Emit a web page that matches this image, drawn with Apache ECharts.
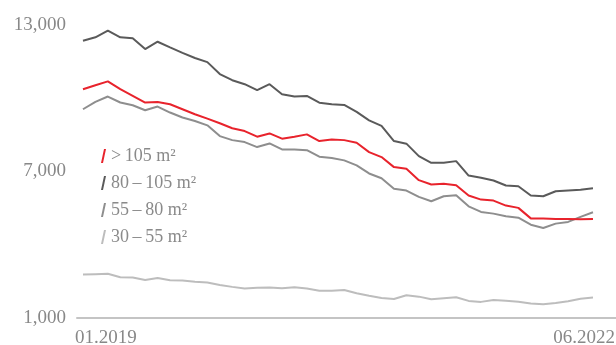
<!DOCTYPE html>
<html>
<head>
<meta charset="utf-8">
<script src="https://cdn.jsdelivr.net/npm/echarts@6/dist/echarts.min.js"></script>
<style>
  html, body { margin: 0; padding: 0; background: #fff; }
  #chart { width: 616px; height: 345px; }
</style>
</head>
<body>
<div id="chart"></div>
<script>
// months 01.2019 .. 06.2022 (42 points)
var months = [];
for (var y = 2019; y <= 2022; y++) {
  for (var m = 1; m <= 12; m++) {
    if (y === 2022 && m > 6) break;
    months.push((m < 10 ? '0' + m : '' + m) + '.' + y);
  }
}
var xLabels = ['01.2019', '06.2022'];
var yTicks = [1000, 7000, 13000];

var names = ['>\u2009105 m²', '80\u2009–\u2009105 m²', '55\u2009–\u200980 m²', '30\u2009–\u200955 m²'];

var over105 = [10370, 10535, 10690, 10370, 10100, 9825, 9850, 9755, 9550, 9345,
  9165, 8975, 8770, 8655, 8425, 8560, 8345, 8425, 8520, 8245,
  8315, 8285, 8180, 7795, 7590, 7180, 7110, 6645, 6465, 6495,
  6440, 6015, 5850, 5810, 5605, 5510, 5080, 5070, 5055, 5055,
  5040, 5055];
var from80to105 = [12355, 12495, 12765, 12495, 12455, 12015, 12315, 12085, 11860, 11650,
  11480, 10990, 10740, 10575, 10330, 10575, 10165, 10070, 10095, 9820,
  9755, 9725, 9440, 9095, 8865, 8245, 8140, 7630, 7355, 7355,
  7425, 6835, 6740, 6630, 6425, 6395, 6015, 5985, 6190, 6220,
  6250, 6315];
var from55to80 = [9550, 9850, 10070, 9825, 9715, 9510, 9660, 9415, 9210, 9070,
  8890, 8450, 8285, 8205, 8000, 8150, 7905, 7905, 7875, 7605,
  7550, 7455, 7250, 6920, 6725, 6290, 6220, 5960, 5780, 5985,
  6025, 5575, 5345, 5275, 5165, 5110, 4820, 4685, 4865, 4935,
  5140, 5330];
var from30to55 = [2780, 2795, 2810, 2670, 2655, 2560, 2640, 2550, 2535, 2480,
  2450, 2355, 2275, 2205, 2235, 2245, 2220, 2260, 2205, 2120,
  2120, 2150, 2015, 1915, 1820, 1780, 1930, 1875, 1765, 1810,
  1850, 1700, 1660, 1740, 1710, 1670, 1590, 1560, 1615, 1685,
  1790, 1835];

var colors = ['#e8232c', '#5a5a5a', '#8e8e8e', '#bdbdbd'];
var seriesData = [over105, from80to105, from55to80, from30to55];

function pairs(arr) {
  return arr.map(function (v, i) { return [i, v]; });
}

var chart = echarts.init(document.getElementById('chart'));
var font = '"Liberation Serif", "Times New Roman", serif';

var option = {
  animation: false,
  grid: { left: 77, right: 0, top: 25, bottom: 27 },
  xAxis: {
    type: 'value',
    min: -0.48,
    max: 42.85,
    axisLine: { show: true, lineStyle: { color: '#c4c4c4', width: 2 } },
    axisTick: { show: false },
    axisLabel: { show: false },
    splitLine: { show: false }
  },
  yAxis: {
    type: 'value',
    min: 1000,
    max: 13000,
    axisLine: { show: false },
    axisTick: { show: false },
    splitLine: { show: false },
    axisLabel: {
      customValues: yTicks,
      margin: 11,
      padding: [6, 0, 0, 0],
      color: '#888',
      fontFamily: font,
      fontSize: 19,
      formatter: function (v) { return v.toLocaleString('en-US'); }
    }
  },
  legend: {
    orient: 'vertical',
    left: 96,
    top: 142,
    itemGap: 9,
    itemWidth: 5,
    itemHeight: 14,
    icon: 'path://M3,0 L5,0 L2,14 L0,14 Z',
    textStyle: { color: '#8a8a8a', fontFamily: font, fontSize: 18 },
    data: names
  },
  series: seriesData.map(function (d, k) {
    return {
      name: names[k],
      type: 'line',
      data: pairs(d),
      symbol: 'none',
      color: colors[k],
      lineStyle: { width: 2, color: colors[k] },
      z: 10 - k
    };
  })
};

chart.setOption(option);

// x tick labels at both ends of the axis
var p0 = chart.convertToPixel({ gridIndex: 0 }, [option.xAxis.min, 1000]);
var p1 = chart.convertToPixel({ gridIndex: 0 }, [option.xAxis.max, 1000]);
chart.setOption({
  graphic: [
    { type: 'text', left: p0[0] - 2, top: p0[1] + 11,
      style: { text: xLabels[0], fill: '#888', font: '19px ' + font } },
    { type: 'text', right: 616 - p1[0] + 1, top: p1[1] + 11,
      style: { text: xLabels[1], fill: '#888', font: '19px ' + font } }
  ]
});
</script>
</body>
</html>
